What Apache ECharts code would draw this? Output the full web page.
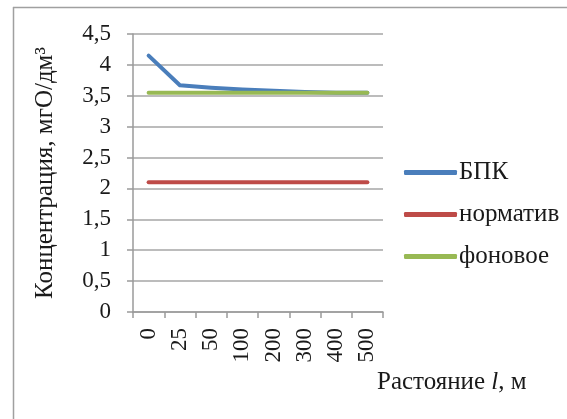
<!DOCTYPE html>
<html>
<head>
<meta charset="utf-8">
<script src="https://cdn.jsdelivr.net/npm/echarts@6/dist/echarts.min.js"></script>
<style>
  html, body { margin: 0; padding: 0; background: #fff; }
  #chart { width: 567px; height: 419px; }
</style>
</head>
<body>
<div id="chart"></div>
<script>
// Distance from the outfall, m
const distances = ['0', '25', '50', '100', '200', '300', '400', '500'];
// BOD concentration, mgO/dm3
const bpk = [4.15, 3.67, 3.63, 3.60, 3.58, 3.56, 3.55, 3.55];
// Standard limit
const normativ = [2.1, 2.1, 2.1, 2.1, 2.1, 2.1, 2.1, 2.1];
// Background level
const fonovoe = [3.55, 3.55, 3.55, 3.55, 3.55, 3.55, 3.55, 3.55];
const yTicks = { min: 0, max: 4.5, interval: 0.5 };

const FONT = '"Liberation Serif", "Times New Roman", serif';
const TEXT = '#1a1a1a';
const NUM_SIZE = 23;
const WORD_SIZE = 25;

const chart = echarts.init(document.getElementById('chart'));
const mkLine = (name, data, color) => ({
  name, type: 'line', data,
  symbol: 'none',
  lineStyle: { color, width: 4, cap: 'round', join: 'round' },
  itemStyle: { color },
  emphasis: { disabled: true }
});

chart.setOption({
  backgroundColor: '#fff',
  animation: false,
  grid: { left: 133, right: 184, top: 34, bottom: 107 },
  xAxis: {
    type: 'category',
    data: distances,
    boundaryGap: true,
    axisLine: { lineStyle: { color: '#9a9a9a', width: 1.5 } },
    axisTick: { show: true, length: 6, lineStyle: { color: '#9a9a9a', width: 1.5 } },
    axisLabel: {
      rotate: 90, margin: 16,
      // fixed-width box so every rotated label starts flush at the axis
      formatter: v => '{v|' + v + '}',
      rich: { v: { width: 40, align: 'right', fontFamily: FONT, fontSize: NUM_SIZE, color: TEXT } },
      fontFamily: FONT, fontSize: NUM_SIZE, color: TEXT
    },
    splitLine: { show: false }
  },
  yAxis: {
    type: 'value',
    min: yTicks.min, max: yTicks.max, interval: yTicks.interval,
    name: 'Концентрация, мгО/дм³',
    nameLocation: 'middle',
    nameGap: 75,
    nameTextStyle: { fontFamily: FONT, fontSize: WORD_SIZE, color: TEXT },
    axisLine: { show: true, lineStyle: { color: '#9a9a9a', width: 1.5 } },
    axisTick: { show: true, length: 6, lineStyle: { color: '#9a9a9a', width: 1.5 } },
    axisLabel: {
      margin: 22, fontFamily: FONT, fontSize: NUM_SIZE, color: TEXT,
      formatter: v => String(v).replace('.', ',')
    },
    splitLine: { lineStyle: { color: '#a6a6a6', width: 1.5 } }
  },
  legend: {
    orient: 'vertical',
    left: 399, top: 155,
    icon: 'roundRect',
    itemWidth: 53, itemHeight: 5, itemGap: 17,
    textStyle: { fontFamily: FONT, fontSize: WORD_SIZE, color: TEXT, padding: [0, 0, 0, -3] },
    data: ['БПК', 'норматив', 'фоновое']
  },
  graphic: [
    { type: 'line', shape: { x1: 13, y1: 7.5, x2: 567, y2: 7.5 }, style: { stroke: '#a0a0a0', lineWidth: 1.5 } },
    { type: 'line', shape: { x1: 13.5, y1: 7, x2: 13.5, y2: 419 }, style: { stroke: '#a0a0a0', lineWidth: 1.5 } },
    {
      type: 'text', left: 377, top: 370,
      style: {
        text: '{a|Растояние }{i|l}{a|, м}',
        rich: {
          a: { fontFamily: FONT, fontSize: WORD_SIZE, fill: TEXT },
          i: { fontFamily: FONT, fontSize: WORD_SIZE, fontStyle: 'italic', fill: TEXT }
        }
      }
    }
  ],
  series: [
    mkLine('БПК', bpk, '#4a7ebb'),
    mkLine('норматив', normativ, '#be4b48'),
    mkLine('фоновое', fonovoe, '#98b954')
  ]
});
</script>
</body>
</html>
